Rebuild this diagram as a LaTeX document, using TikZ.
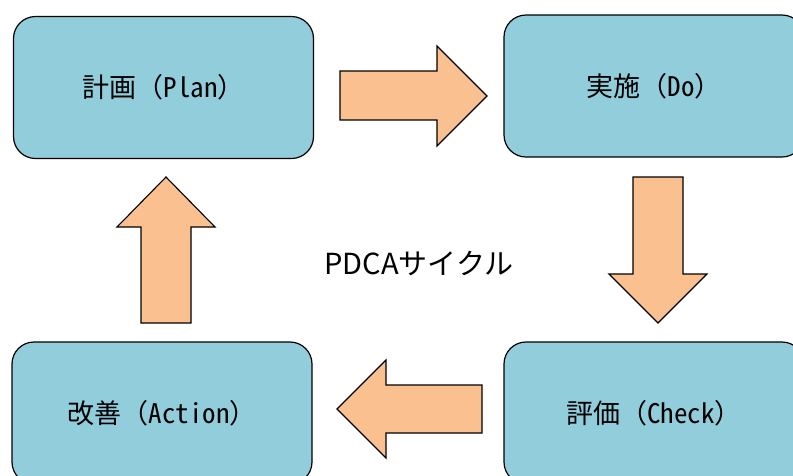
\documentclass[tikz,border=0pt]{standalone}
\usepackage{fontspec}
\setmainfont{Noto Sans CJK JP}
\newfontfamily\halffont[RawFeature=+hwid]{Noto Sans CJK JP}
\newcommand\halfw[1]{{\halffont #1}}
\usetikzlibrary{positioning}
\definecolor{boxblue}{RGB}{146,205,220}
\definecolor{arroworange}{RGB}{250,192,143}

\begin{document}
\begin{tikzpicture}[x=1pt, y=-1pt,
    box/.style={draw, line width=1.2pt, rounded corners=22pt, fill=boxblue,
      minimum width=300pt, minimum height=142pt,
      font=\fontsize{27}{32}\selectfont},
    fatarrow/.style={draw, line width=1.1pt, fill=arroworange, line join=miter}]
  \useasboundingbox (0,0) rectangle (793,475);
  \clip (0,0) rectangle (793,475);

  % the four steps
  \node[box] (plan) at (163.5,87.5) {計画（\halfw{Plan}）};
  \node[box] (do) at (654,86) {実施（\halfw{Do}）};
  \node[box] (check) at (654,413) {評価（\halfw{Check}）};
  \node[box] (act) at (162,413) {改善（\halfw{Action}）};

  \node[font=\fontsize{29}{33}\selectfont] (cycle) at (419,263) {PDCAサイクル};

  % block arrows between the steps
  \draw[fatarrow] (340,71) -- (437,71) -- (437,46) -- (487,96) -- (437,146) -- (437,120) -- (340,120) -- cycle;
  \draw[fatarrow] (633,177) -- (683,177) -- (683,274) -- (707,274) -- (658,323) -- (609,274) -- (633,274) -- cycle;
  \draw[fatarrow] (482,385) -- (386,385) -- (386,360) -- (337,409) -- (386,458) -- (386,433) -- (482,433) -- cycle;
  \draw[fatarrow] (141,323) -- (141,227) -- (117,227) -- (166,177) -- (215,227) -- (191,227) -- (191,323) -- cycle;
\end{tikzpicture}
\end{document}
